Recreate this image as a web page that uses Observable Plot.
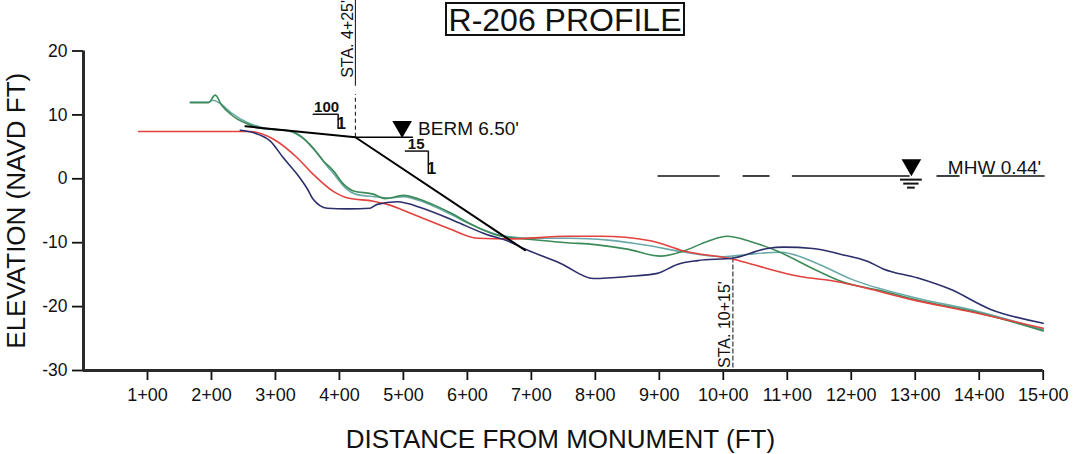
<!DOCTYPE html>
<html>
<head>
<meta charset="utf-8">
<script src="https://cdn.jsdelivr.net/npm/d3@7"></script>
<script src="https://cdn.jsdelivr.net/npm/@observablehq/plot@0.6"></script>
<style>
  body { margin: 0; background: #fff; font-family: "Liberation Sans", Arial, sans-serif; }
  #wrap { position: relative; width: 1078px; height: 454px; overflow: hidden; }
  #title { position: absolute; left: 445px; top: 2px; width: 236px; height: 30px; border: 2px solid #111;
           font-size: 32px; line-height: 33px; text-align: center; color: #111; white-space: nowrap; }
</style>
</head>
<body>
<div id="wrap"><div id="title">R-206 PROFILE</div></div>
<script>
// ---- tick values ----
const xTicks = [100, 200, 300, 400, 500, 600, 700, 800, 900, 1000, 1100, 1200, 1300, 1400, 1500];
const yTicks = [-30, -20, -10, 0, 10, 20];

// ---- survey profiles (distance ft, elevation ft NAVD) ----
const redX = [86, 261, 297, 334, 359, 391, 413, 453, 475, 516, 569, 616, 667, 756, 808, 886, 938, 1016, 1042, 1120, 1172, 1303, 1381, 1500];
const redY = [7.4, 7.4, 6.2, 3.3, 0.7, -2.0, -3.0, -3.5, -4.0, -5.6, -7.7, -9.3, -9.4, -9.0, -9.0, -9.7, -11.3, -12.6, -13.3, -15.3, -16.0, -19.1, -20.7, -23.4];

const navyX = [245, 266, 292, 313, 334, 350, 359, 381, 413, 448, 459, 490, 530, 580, 630, 660, 690, 745, 797, 850, 897, 928, 960, 1016, 1069, 1094, 1140, 1183, 1225, 1250, 1303, 1355, 1417, 1500];
const navyY = [7.6, 7.2, 5.9, 3.2, 0.7, -1.6, -3.2, -4.6, -4.7, -4.6, -4.0, -3.6, -4.6, -6.6, -8.7, -9.6, -11.0, -13.2, -15.6, -15.3, -14.8, -13.4, -12.8, -12.4, -10.9, -10.7, -10.9, -11.8, -12.9, -14.1, -15.5, -17.3, -20.4, -22.6];

const greenX = [167, 195, 206, 216, 230, 241, 256, 277, 323, 339, 359, 375, 391, 406, 422, 453, 472, 500, 525, 550, 575, 600, 625, 650, 700, 756, 800, 850, 902, 938, 975, 1006, 1042, 1084, 1147, 1183, 1250, 1300, 1400, 1500];
const greenY = [11.9, 11.9, 13.1, 11.5, 10.1, 9.3, 8.6, 7.9, 7.5, 6.7, 4.8, 2.8, 1.2, -0.8, -1.9, -2.4, -3.1, -2.6, -3.2, -4.2, -5.4, -6.8, -8.0, -8.9, -9.5, -10.0, -10.3, -11.0, -12.1, -11.3, -9.8, -9.0, -9.8, -11.3, -14.4, -16.0, -17.6, -18.9, -21.0, -23.8];

const tealX = [167, 195, 203, 212, 230, 256, 280, 323, 345, 365, 380, 395, 410, 425, 455, 480, 500, 525, 550, 575, 600, 625, 650, 700, 760, 820, 880, 940, 1000, 1040, 1090, 1150, 1200, 1300, 1400, 1500];
const tealY = [12.0, 12.0, 12.3, 11.9, 10.4, 8.8, 8.0, 7.4, 6.2, 4.0, 2.1, 0.3, -1.5, -2.4, -2.8, -3.0, -2.8, -3.4, -4.4, -5.6, -6.9, -8.0, -8.8, -9.3, -9.3, -9.6, -10.4, -11.5, -12.2, -11.8, -11.5, -13.4, -15.7, -18.6, -20.8, -23.6];

// ---- design template (100:1 to berm crest, 15:1 foreshore) ----
const designX = [253, 425, 690];
const designY = [8.22, 6.5, -11.17];
const bermElev = 6.5;
const bermLevelX = [425, 514];

// ---- MHW ----
const mhwElev = 0.44;
const mhwStart = [898, 1031, 1108, 1334, 1406];
const mhwEnd   = [995, 1073, 1292, 1370, 1503];

// ---- annotations ----
const staNames = ["STA. 4+25'", "STA. 10+15'"];
const staX = [425, 1015];
const staLabelY = [15.8, -29.6];

const toPts = (xs, ys) => xs.map((x, i) => ({x, y: ys[i]}));
const red = toPts(redX, redY), navy = toPts(navyX, navyY), green = toPts(greenX, greenY), teal = toPts(tealX, tealY);
const design = toPts(designX, designY);
const bermLevel = bermLevelX.map(x => ({x, y: bermElev}));
const mhwSegs = mhwStart.map((s, i) => ({x1: s, x2: mhwEnd[i], y: mhwElev}));
const staLabels = staNames.map((t, i) => ({x: staX[i], y: staLabelY[i], text: t}));

const slopeText = [
  {x: 380, y: 10.44, text: "100", size: 15, anchor: "middle"},
  {x: 403, y: 7.8, text: "1", size: 17, anchor: "start"},
  {x: 520, y: 4.65, text: "15", size: 15, anchor: "middle"},
  {x: 544, y: 0.74, text: "1", size: 17, anchor: "start"}
];
const slopeUnder = [{x1: 359, x2: 398, y: 10.1}, {x1: 503, x2: 539, y: 4.34}];
const slopeVert = [{x: 398, y1: 10.1, y2: 7.8}, {x: 539, y1: 4.34, y2: 0.74}];

const markers = [{x: 498, y: 8.17}, {x: 1294, y: 2.18}];
const markerText = [{x: 523, y: 6.84, text: "BERM 6.50'"}, {x: 1351, y: 0.75, text: "MHW 0.44'"}];
const waterLines = [{x1: 1277, x2: 1311, y: -0.13}, {x1: 1282, x2: 1306, y: -0.75}, {x1: 1288, x2: 1300, y: -1.38}];

const chart = Plot.plot({
  width: 1078, height: 454,
  marginLeft: 83, marginRight: 35.3, marginTop: 50.5, marginBottom: 84,
  x: {domain: [0, 1500]},
  y: {domain: [-30, 20]},
  style: {fontFamily: '"Liberation Sans", Arial, sans-serif', color: "#111", background: "#fff"},
  marks: [
    Plot.axisX({ticks: xTicks, tickFormat: d => `${d / 100}+00`, tickSize: 10, tickPadding: 8, fontSize: 18, label: null, strokeWidth: 1.8}),
    Plot.axisY({ticks: yTicks, tickFormat: d => String(d), tickSize: 11, tickPadding: 5, fontSize: 17.5, label: null, strokeWidth: 1.8}),
    Plot.ruleX([0], {y1: -30, y2: 20, stroke: "#2a2a2a", strokeWidth: 3}),
    Plot.ruleY([-30], {x1: 0, x2: 1500, stroke: "#2a2a2a", strokeWidth: 3}),
    Plot.text(["ELEVATION (NAVD FT)"], {frameAnchor: "left", rotate: -90, dx: -67, fontSize: 26, textAnchor: "middle", lineAnchor: "middle", fill: "#111"}),
    Plot.text(["DISTANCE FROM MONUMENT (FT)"], {frameAnchor: "bottom", dy: 77, dx: -3, fontSize: 26, textAnchor: "middle", lineAnchor: "bottom", fill: "#111"}),

    // station lines
    Plot.ruleX([staX[0]], {y1: 14.5, y2: 28, stroke: "#222", strokeWidth: 1.1}),
    Plot.ruleX([staX[0]], {y1: bermElev, y2: 13.2, stroke: "#222", strokeWidth: 1.1, strokeDasharray: "4,3"}),
    Plot.ruleX([staX[1]], {y1: -12.4, y2: -30, stroke: "#222", strokeWidth: 1.1, strokeDasharray: "5,2"}),
    Plot.text(staLabels, {x: "x", y: "y", text: "text", rotate: -90, textAnchor: "start", lineAnchor: "middle", dx: -8, fontSize: 16, fill: "#111"}),

    // surveys
    Plot.line(teal, {x: "x", y: "y", stroke: "#6aa9a8", strokeWidth: 1.6, curve: "monotone-x"}),
    Plot.line(green, {x: "x", y: "y", stroke: "#3b8a57", strokeWidth: 1.6, curve: "monotone-x"}),
    Plot.line(red, {x: "x", y: "y", stroke: "#e3413d", strokeWidth: 1.6, curve: "monotone-x"}),
    Plot.line(navy, {x: "x", y: "y", stroke: "#2b2e6b", strokeWidth: 1.6, curve: "monotone-x"}),

    // design
    Plot.line(design, {x: "x", y: "y", stroke: "#000", strokeWidth: 2}),
    Plot.line(bermLevel, {x: "x", y: "y", stroke: "#000", strokeWidth: 1.6}),

    // slope annotations
    Plot.text(slopeText, {x: "x", y: "y", text: "text", fontSize: d => d.size, textAnchor: d => d.anchor, lineAnchor: "bottom", fontWeight: "bold", fill: "#111"}),
    Plot.ruleY(slopeUnder, {x1: "x1", x2: "x2", y: "y", stroke: "#111", strokeWidth: 1.5}),
    Plot.ruleX(slopeVert, {x: "x", y1: "y1", y2: "y2", stroke: "#111", strokeWidth: 1.5}),

    // MHW
    Plot.ruleY(mhwSegs, {x1: "x1", x2: "x2", y: "y", stroke: "#111", strokeWidth: 1.6}),
    Plot.ruleY(waterLines, {x1: "x1", x2: "x2", y: "y", stroke: "#111", strokeWidth: 2}),

    // markers
    Plot.dot(markers, {x: "x", y: "y", symbol: "triangle", rotate: 180, r: 7.3, fill: "#000", stroke: null}),
    Plot.text(markerText, {x: "x", y: "y", text: "text", textAnchor: "start", lineAnchor: "bottom", fontSize: 19, fill: "#111"})
  ]
});
document.getElementById("wrap").prepend(chart);
</script>
</body>
</html>
